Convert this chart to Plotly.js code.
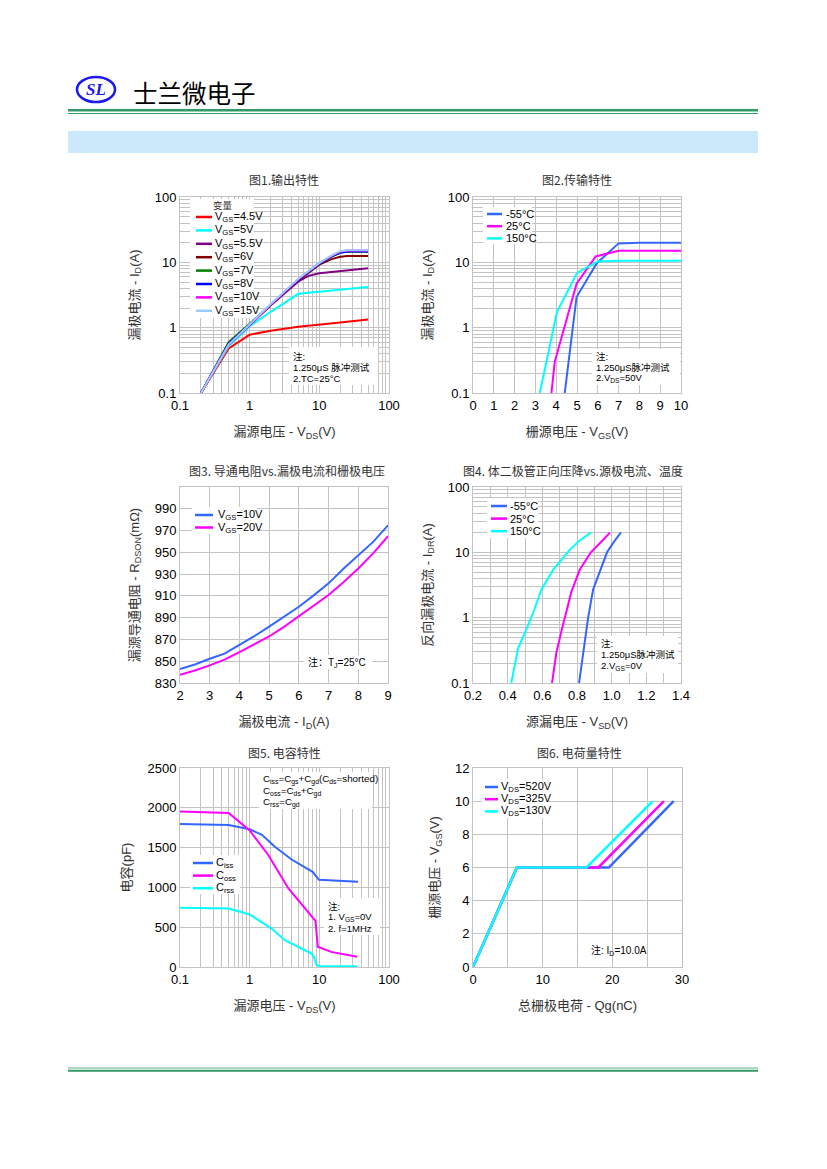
<!DOCTYPE html>
<html><head><meta charset="utf-8">
<script src="https://cdn.plot.ly/plotly-3.0.1.min.js"></script>
<style>html,body{margin:0;padding:0;background:#fff}#chart{width:827px;height:1169px}</style>
</head><body><div id="chart"></div>
<script>
// ---------------- DATA ----------------
// Fig1 output characteristics (VDS [V], ID [A])
const f1Names = ['V<sub>GS</sub>=4.5V','V<sub>GS</sub>=5V','V<sub>GS</sub>=5.5V','V<sub>GS</sub>=6V','V<sub>GS</sub>=7V','V<sub>GS</sub>=8V','V<sub>GS</sub>=10V','V<sub>GS</sub>=15V'];
const f1Vds45 = [0.2,0.5,1,2,5,10,20,50];
const f1Id45  = [0.1,0.48,0.78,0.9,1.03,1.1,1.2,1.33];
const f1Vds5  = [0.2,0.5,1,2,5,10,20,50];
const f1Id5   = [0.1,0.52,1.05,1.75,3.3,3.55,3.85,4.2];
const f1Vds55 = [0.2,0.5,1,2,5,7,10,20,50];
const f1Id55  = [0.1,0.55,1.1,2.2,5.1,6.2,6.8,7.4,8.1];
const f1VdsHi = [0.2,0.5,1,2,5,10,15,20,25,50];
const f1Id6   = [0.1,0.56,1.1,2.2,5.3,9.2,11.2,12.2,12.5,12.5];
const f1Id7   = [0.1,0.6,1.15,2.25,5.4,9.5,12.2,14.0,14.5,14.5];
const f1Id8   = [0.1,0.57,1.12,2.25,5.4,9.5,12.3,14.1,14.6,14.6];
const f1Id10  = [0.1,0.55,1.1,2.25,5.5,9.7,12.6,14.6,15.2,15.2];
const f1Id15  = [0.1,0.55,1.12,2.3,5.6,9.8,12.8,14.8,15.3,15.3];
// Fig2 transfer characteristics (VGS [V], ID [A])
const f2Names = ['-55°C','25°C','150°C'];
const f2VgsM55 = [4.41,4.98,5.95,7.0,8,10];
const f2IdM55  = [0.1,2.95,9.7,19.5,20,20];
const f2Vgs25  = [3.77,3.93,4.98,5.9,7.0,10];
const f2Id25   = [0.1,0.3,4.7,12.3,15,15];
const f2Vgs150 = [3.21,4.04,5.0,6.0,7.0,10];
const f2Id150  = [0.1,1.75,6.9,10.3,10.6,10.6];
// Fig3 RDSON vs ID (ID [A], RDSON [mOhm])
const f3Names = ['V<sub>GS</sub>=10V','V<sub>GS</sub>=20V'];
const f3Id = [2,2.5,3,3.5,4,4.5,5,5.5,6,6.5,7,7.5,8,8.5,9];
const f3R10 = [842.8,847,852.3,857,865,873,881.8,890.5,900,910.5,921.5,935,947.4,959.6,974.8];
const f3R20 = [837.6,841.5,846.2,851.5,858.4,865.5,872.7,881.5,891,900.5,910.8,922.5,935.2,949,964.8];
// Fig4 body diode (VSD [V], IDR [A])
const f4Names = ['-55°C','25°C','150°C'];
const f4VsdM55 = [0.812,0.836,0.864,0.893,0.932,0.974,1.019,1.053];
const f4IdrM55 = [0.1,0.31,0.99,2.7,5.1,10.1,15.2,20];
const f4Vsd25  = [0.656,0.681,0.71,0.739,0.768,0.816,0.88,0.951,0.99];
const f4Idr25  = [0.1,0.29,0.62,1.32,2.5,5.4,10,15.6,20];
const f4Vsd150 = [0.421,0.46,0.504,0.547,0.595,0.662,0.759,0.816,0.88];
const f4Idr150 = [0.1,0.34,0.62,1.18,2.7,5.4,11,15.2,20];
// Fig5 capacitance (VDS [V], C [pF])
const f5Names = ['C<sub>iss</sub>','C<sub>oss</sub>','C<sub>rss</sub>'];
const f5VdsCiss = [0.1,0.5,1,1.5,2.3,4,8,9.9,36];
const f5Ciss    = [1795,1785,1730,1660,1510,1350,1195,1095,1070];
const f5VdsCoss = [0.1,0.5,1,1.85,3.6,8.8,9.5,14.8,35];
const f5Coss    = [1955,1935,1715,1407,987,580,255,190,128];
const f5VdsCrss = [0.1,0.5,1,2.06,3.2,4.45,7.7,8.4,9.1,10,35];
const f5Crss    = [745,735,660,483,336,273,168,126,25,12,8];
// Fig6 gate charge (Qg [nC], VGS [V])
const f6Names = ['V<sub>DS</sub>=520V','V<sub>DS</sub>=325V','V<sub>DS</sub>=130V'];
const f6Qg520 = [0,6.3,19.5,28.8];
const f6Qg325 = [0,6.3,18.0,27.4];
const f6Qg130 = [0,6.3,16.3,25.8];
const f6Vgs   = [0,6,6,10];

// ---------------- STYLE / LAYOUT ----------------
const W=827,H=1169;
const FONT='"Liberation Sans", Arial, "Noto Sans CJK SC", sans-serif';
const CJK='"Noto Sans CJK SC", "Liberation Sans", sans-serif';
const GRID='#c3c3c3';
const BLUE='#3366ff', MAG='#ff00ff', CYAN='#00ffff';
const f1Colors=['#ff0000','#00ffff','#800080','#800000','#008000','#0000ff','#ff00ff','#99ccff'];
const tempColors=[BLUE,MAG,CYAN];

const traces=[];
function add(n,xs,ys,color,w){
  const s=n>1?String(n):'';
  traces.push({x:xs,y:ys,type:'scatter',mode:'lines',line:{color:color,width:w||2},
    xaxis:'x'+s,yaxis:'y'+s,showlegend:false,hoverinfo:'skip'});
}
add(1,f1Vds45,f1Id45,f1Colors[0]);
add(1,f1Vds5,f1Id5,f1Colors[1]);
add(1,f1Vds55,f1Id55,f1Colors[2]);
add(1,f1VdsHi,f1Id6,f1Colors[3]);
add(1,f1VdsHi,f1Id7,f1Colors[4]);
add(1,f1VdsHi,f1Id8,f1Colors[5]);
add(1,f1VdsHi,f1Id10,f1Colors[6]);
add(1,f1VdsHi,f1Id15,f1Colors[7]);
add(2,f2VgsM55,f2IdM55,BLUE);
add(2,f2Vgs25,f2Id25,MAG);
add(2,f2Vgs150,f2Id150,CYAN);
add(3,f3Id,f3R10,BLUE);
add(3,f3Id,f3R20,MAG);
add(4,f4VsdM55,f4IdrM55,BLUE);
add(4,f4Vsd25,f4Idr25,MAG);
add(4,f4Vsd150,f4Idr150,CYAN);
add(5,f5VdsCiss,f5Ciss,BLUE);
add(5,f5VdsCoss,f5Coss,MAG);
add(5,f5VdsCrss,f5Crss,CYAN);
add(6,f6Qg520,f6Vgs,BLUE,2.5);
add(6,f6Qg325,f6Vgs,MAG,2.5);
add(6,f6Qg130,f6Vgs,CYAN,2.5);

// plot rectangles in page pixels [left, top, right, bottom]
const P=[[180,197,389,393],[473,197,681,393],[180,487,388,683],[473,487,681,683],[180,768,389,967],[473,768,682,967]];
function base(extra){
  return Object.assign({showline:true,mirror:true,linecolor:GRID,linewidth:1,showgrid:true,gridcolor:GRID,gridwidth:1,
    zeroline:false,ticks:'',automargin:false,fixedrange:true,
    tickfont:{family:FONT,size:13,color:'#000'}},extra);
}
function ttl(t,st){return {text:t,font:{family:FONT,size:13,color:'#333'},standoff:st};}
const minorLog={showgrid:true,gridcolor:GRID,gridwidth:1,dtick:'D1'};
const xs=[
  {type:'log',range:[-1,2],dtick:1,minor:minorLog,title:ttl('漏源电压 - V<sub>DS</sub>(V)',15)},
  {range:[0,10],dtick:1,title:ttl('栅源电压 - V<sub>GS</sub>(V)',15)},
  {range:[2,9],dtick:1,title:ttl('漏极电流 - I<sub>D</sub>(A)',15)},
  {range:[0.2,1.4],tick0:0.2,dtick:0.2,tickformat:'.1f',minor:{showgrid:true,gridcolor:GRID,dtick:0.1},title:ttl('源漏电压 - V<sub>SD</sub>(V)',15)},
  {type:'log',range:[-1,2],dtick:1,minor:minorLog,title:ttl('漏源电压 - V<sub>DS</sub>(V)',15)},
  {range:[0,30],dtick:10,minor:{showgrid:true,gridcolor:GRID,dtick:5},title:ttl('总栅极电荷 - Qg(nC)',15)}
];
const r3Ticks=[830,850,870,890,910,930,950,970,990];
const ys=[
  {type:'log',range:[-1,2],dtick:1,minor:minorLog,title:ttl('漏极电流 - I<sub>D</sub>(A)',12)},
  {type:'log',range:[-1,2],dtick:1,minor:minorLog,title:ttl('漏极电流 - I<sub>D</sub>(A)',12)},
  {range:[830,1010],tickvals:r3Ticks,title:ttl('漏源导通电阻 - R<sub>DSON</sub>(mΩ)',12)},
  {type:'log',range:[-1,2],dtick:1,minor:minorLog,title:ttl('反向漏极电流 - I<sub>DR</sub>(A)',12)},
  {range:[0,2500],dtick:500,title:ttl('电容(pF)',12)},
  {range:[0,12],dtick:2,title:ttl('栅源电压 - V<sub>GS</sub>(V)',12)}
];
const layout={width:W,height:H,margin:{l:0,r:0,t:0,b:0},paper_bgcolor:'#fff',plot_bgcolor:'#fff',
  showlegend:false,font:{family:FONT,color:'#000'}};
for(let i=0;i<6;i++){
  const s=i?String(i+1):'';
  const [l,t,r,b]=P[i];
  layout['xaxis'+s]=base(Object.assign({domain:[l/W,r/W],anchor:'y'+s},xs[i]));
  layout['yaxis'+s]=base(Object.assign({domain:[1-b/H,1-t/H],anchor:'x'+s},ys[i]));
}

// ---------------- DECORATION ----------------
const shapes=[],annos=[];
const px=x=>x/W, py=y=>1-y/H;
function rect(x0,y0,x1,y1,fill,layer){shapes.push({type:'rect',xref:'paper',yref:'paper',x0:px(x0),x1:px(x1),y0:py(y1),y1:py(y0),fillcolor:fill,line:{width:0},layer:layer||'above'});}
function hline(x0,x1,y,color,w){shapes.push({type:'line',xref:'paper',yref:'paper',x0:px(x0),x1:px(x1),y0:py(y),y1:py(y),line:{color:color,width:w},layer:'above'});}
function txt(x,y,t,size,o){annos.push(Object.assign({xref:'paper',yref:'paper',x:px(x),y:py(y),text:t,showarrow:false,
  xanchor:'left',yanchor:'middle',borderpad:0,font:{size:size,color:'#000',family:FONT}},o||{}));}

// header
shapes.push({type:'circle',xref:'paper',yref:'paper',x0:px(77),x1:px(115),y0:py(102),y1:py(77),line:{color:'#1a1aee',width:2.5},layer:'above'});
txt(96,89,'<b><i>SL</i></b>',17,{xanchor:'center',font:{size:17,color:'#1a1aee',family:'"Liberation Serif", serif'}});
txt(132,92,'士兰微电子',24.5,{font:{size:24.5,color:'#000',family:CJK}});
rect(68,109,758,111.5,'#339966');
rect(68,113,758,114,'#339966');
rect(68,131,758,153,'#cce9fc','below');
// footer
rect(68,1067.5,758,1068.5,'#5aae80');
rect(68,1069.7,758,1071.8,'#339966');

// chart titles
const titles=[['图1.输出特性',284,180],['图2.传输特性',577,180],['图3. 导通电阻vs.漏极电流和栅极电压',287,470],
  ['图4. 体二极管正向压降vs.源极电流、温度',573,470],['图5. 电容特性',284,752],['图6. 电荷量特性',579,752]];
titles.forEach(t=>txt(t[1],t[2],t[0],12,{xanchor:'center',font:{size:12,color:'#333',family:CJK}}));

// legends: box, swatch start/length, rows
function legend(box,sx,slen,tx,rowY,names,colors,size,lw){
  rect(box[0],box[1],box[2],box[3],'#fff');
  names.forEach((n,i)=>{hline(sx,sx+slen,rowY[i],colors[i],lw||2.5);txt(tx,rowY[i],n,size);});
}
function rows(y0,dy,n){const a=[];for(let i=0;i<n;i++)a.push(y0+i*dy);return a;}
legend([190,199,254,318],196,16,214,rows(217,13.4,8),f1Names,f1Colors,11);
txt(223,205,'变量',9.5,{xanchor:'center',font:{size:9.5,color:'#333',family:CJK}});
legend([483,207,532,244],487,15,505,rows(214,12.2,3),f2Names,tempColors,11);
legend([192,507,257,534],195,18,217,rows(515,12.5,2),f3Names,[BLUE,MAG],11);
legend([487,498,538,538],491,16,509,rows(506,12.6,3),f4Names,tempColors,11);
legend([190,855,240,894],193,20,215,rows(863,12.6,3),f5Names,[BLUE,MAG,CYAN],11);
legend([482,779,547,818],485,13,500,rows(787,12.2,3),f6Names,[BLUE,MAG,CYAN],11);

// notes
function note(box,x,rowY,lines,size){
  if(box) rect(box[0],box[1],box[2],box[3],'#fff');
  lines.forEach((l,i)=>txt(x,rowY[i],l,size||9.5));
}
note([289,347,378,385],292,rows(356,11,3),['注:','1.250μS 脉冲测试','2.TC=25°C']);
note([592,349,680,385],595,rows(356,11,3),['注:','1.250μS脉冲测试','2.V<sub>DS</sub>=50V']);
note([304,655,372,669],307,[662],['注：T<sub>J</sub>=25°C'],10);
note([597,636,678,673],600,rows(643,11.5,3),['注:','1.250μS脉冲测试','2.V<sub>GS</sub>=0V']);
note([259,772,372,809],262,rows(780,11,3),['C<sub>iss</sub>=C<sub>gs</sub>+C<sub>gd</sub>(C<sub>ds</sub>=shorted)','C<sub>oss</sub>=C<sub>ds</sub>+C<sub>gd</sub>','C<sub>rss</sub>=C<sub>gd</sub>'],9.8);
note([324,898,380,935],327,rows(906,11.2,3),['注:','1. V<sub>GS</sub>=0V','2. f=1MHz']);
note(null,590,[950],['注: I<sub>D</sub>=10.0A'],10);

layout.shapes=shapes;
layout.annotations=annos;
Plotly.newPlot('chart',traces,layout,{staticPlot:true,displayModeBar:false});
</script>
</body></html>
